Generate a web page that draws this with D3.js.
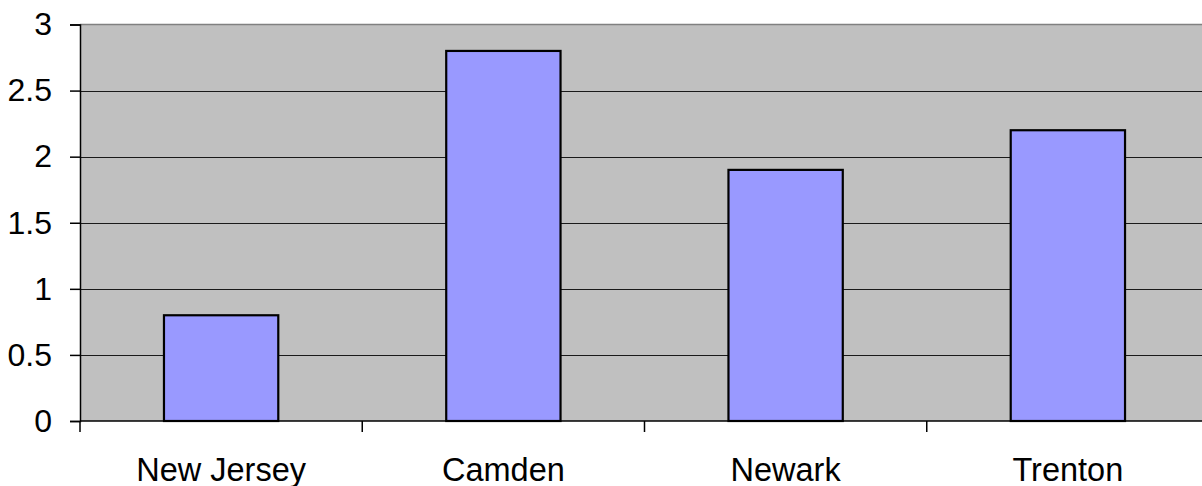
<!DOCTYPE html>
<html>
<head>
<meta charset="utf-8">
<script src="https://cdn.jsdelivr.net/npm/d3@7"></script>
<style>
  html, body { margin: 0; padding: 0; background: #fff; overflow: hidden; }
  svg { display: block; font-family: "Liberation Sans", Arial, sans-serif; }
</style>
</head>
<body>
<svg id="chart" width="1202" height="486"></svg>
<script>
const categories = ["New Jersey", "Camden", "Newark", "Trenton"];
const values = [0.8, 2.8, 1.9, 2.2];
const yTicks = [0, 0.5, 1, 1.5, 2, 2.5, 3];
const yTickLabels = ["0", "0.5", "1", "1.5", "2", "2.5", "3"];

const svg = d3.select("#chart");
const plot = { left: 80, top: 24.5, right: 1209, bottom: 421 };

const x = d3.scaleBand()
  .domain(categories)
  .range([plot.left, plot.right])
  .paddingInner(0.595)
  .paddingOuter(0.2975);

const band = d3.scaleBand().domain(categories).range([plot.left, plot.right]);

const y = d3.scaleLinear().domain([0, 3]).range([plot.bottom, plot.top]);

// plot background
svg.append("rect")
  .attr("x", plot.left).attr("y", plot.top)
  .attr("width", plot.right - plot.left).attr("height", plot.bottom - plot.top)
  .attr("fill", "#c0c0c0");

// top border
svg.append("line")
  .attr("x1", plot.left).attr("x2", plot.right)
  .attr("y1", plot.top).attr("y2", plot.top)
  .attr("stroke", "#808080").attr("stroke-width", 1.5);

// horizontal gridlines
svg.append("g").selectAll("line")
  .data(yTicks.filter(d => d > 0 && d < 3))
  .join("line")
  .attr("x1", plot.left).attr("x2", plot.right)
  .attr("y1", d => Math.round(y(d)) + 0.5).attr("y2", d => Math.round(y(d)) + 0.5)
  .attr("stroke", "#1a1a1a").attr("stroke-width", 1.2);

// bars
svg.append("g").selectAll("rect")
  .data(values)
  .join("rect")
  .attr("x", (d, i) => x(categories[i]))
  .attr("width", x.bandwidth())
  .attr("y", d => y(d))
  .attr("height", d => y(0) - y(d))
  .attr("fill", "#9999ff")
  .attr("stroke", "#000")
  .attr("stroke-width", 2.2);

// y axis
const yAxis = d3.axisLeft(y)
  .tickValues(yTicks)
  .tickFormat((d, i) => yTickLabels[i])
  .tickSize(10)
  .tickPadding(18);
const gy = svg.append("g").attr("transform", `translate(${plot.left},0)`).call(yAxis);
gy.select(".domain").attr("stroke", "#000").attr("stroke-width", 1.5);
gy.selectAll(".tick line").attr("stroke", "#000").attr("stroke-width", 1.5);
gy.selectAll(".tick text")
  .attr("font-size", 32).attr("fill", "#000")
  .attr("font-family", "'Liberation Sans', Arial, sans-serif");

// x axis with category boundary ticks
const gx = svg.append("g").attr("transform", `translate(0,${plot.bottom})`);
gx.append("line")
  .attr("x1", plot.left).attr("x2", plot.right)
  .attr("stroke", "#000").attr("stroke-width", 1.5);
gx.selectAll(".bt")
  .data(categories)
  .join("line")
  .attr("class", "bt")
  .attr("x1", d => band(d)).attr("x2", d => band(d))
  .attr("y1", 0).attr("y2", 11)
  .attr("stroke", "#000").attr("stroke-width", 1.5);
gx.selectAll("text")
  .data(categories)
  .join("text")
  .attr("x", d => band(d) + band.bandwidth() / 2)
  .attr("y", 60)
  .attr("text-anchor", "middle")
  .attr("font-size", 32.5)
  .attr("fill", "#000")
  .text(d => d);
</script>
</body>
</html>
